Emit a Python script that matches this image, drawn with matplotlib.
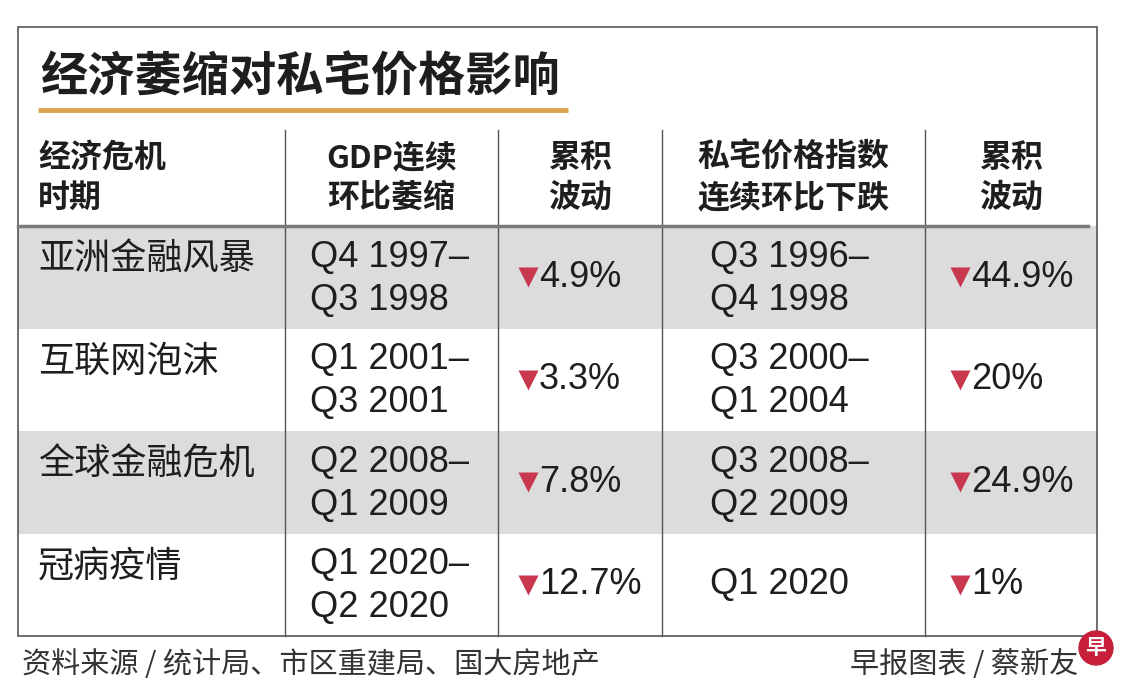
import matplotlib.pyplot as plt
from matplotlib.patches import Rectangle, Circle

plt.rcParams['font.family'] = ['Noto Sans CJK SC', 'DejaVu Sans']

title = "经济萎缩对私宅价格影响"
headers = [["经济危机", "时期"], ["GDP连续", "环比萎缩"], ["累积", "波动"],
           ["私宅价格指数", "连续环比下跌"], ["累积", "波动"]]
crises = ["亚洲金融风暴", "互联网泡沫", "全球金融危机", "冠病疫情"]
gdp_periods = [["Q4 1997–", "Q3 1998"], ["Q1 2001–", "Q3 2001"],
               ["Q2 2008–", "Q1 2009"], ["Q1 2020–", "Q2 2020"]]
gdp_change = ["4.9%", "3.3%", "7.8%", "12.7%"]
price_periods = [["Q3 1996–", "Q4 1998"], ["Q3 2000–", "Q1 2004"],
                 ["Q3 2008–", "Q2 2009"], ["Q1 2020"]]
price_change = ["44.9%", "20%", "24.9%", "1%"]
source = "资料来源 / 统计局、市区重建局、国大房地产"
credit = "早报图表 / 蔡新友"

num_font = ['Liberation Sans Narrow', 'Liberation Sans', 'DejaVu Sans']
red = '#c8384f'
grey_row = '#dcdcdc'
ink = '#1e1e1e'

fig = plt.figure(figsize=(11.4, 6.99), dpi=100)
ax = fig.add_axes([0, 0, 1, 1])
ax.set_xlim(0, 1140)
ax.set_ylim(699, 0)
ax.axis('off')

# frame
left, right, top, bottom = 18, 1097, 27, 636
col_x = [18, 285, 498, 662, 925, 1097]
head_top, head_bot = 130, 226
row_h = (bottom - head_bot) / len(crises)

for i in range(len(crises)):
    if i % 2 == 0:
        ax.add_patch(Rectangle((left, head_bot + i * row_h), right - left, row_h,
                               color=grey_row, lw=0, zorder=0))

ax.add_patch(Rectangle((left, top), right - left, bottom - top, fill=False,
                       ec='#555555', lw=1.2, zorder=3))
for x in col_x[1:-1]:
    ax.plot([x, x], [head_top, bottom], color='#555555', lw=1.0, zorder=3)
ax.plot([left, 1088], [head_bot, head_bot], color='#7a7a7a', lw=2.5, zorder=3)

# title
ax.text(40, 78, title, fontsize=34, fontweight='bold', color=ink,
        va='center', ha='left')
ax.plot([38, 568], [110, 110], color='#d9a54c', lw=3.5, solid_capstyle='butt')

# headers
for j, lines in enumerate(headers):
    if j == 0:
        x, ha = 38, 'left'
    else:
        x, ha = (col_x[j] + col_x[j + 1]) / 2, 'center'
    for k, s in enumerate(lines):
        ax.text(x, 158 + k * 40, s, fontsize=23, fontweight='bold',
                color=ink, ha=ha, va='center')

# body
for i in range(len(crises)):
    yc = head_bot + (i + 0.5) * row_h
    ax.text(38, yc - 18, crises[i], fontsize=26, color=ink,
            ha='left', va='center')
    for k, s in enumerate(gdp_periods[i]):
        ax.text(310, yc - 20 + k * 43, s, fontsize=26, family=num_font,
                color=ink, ha='left', va='center')
    n = len(price_periods[i])
    for k, s in enumerate(price_periods[i]):
        y = yc if n == 1 else yc - 20 + k * 43
        ax.text(710, y, s, fontsize=26, family=num_font,
                color=ink, ha='left', va='center')
    ax.plot(528, yc, marker='v', ms=14, color=red, mec='none')
    ax.text(539, yc, gdp_change[i], fontsize=26, family=num_font,
            color=ink, ha='left', va='center')
    ax.plot(960, yc, marker='v', ms=14, color=red, mec='none')
    ax.text(971, yc, price_change[i], fontsize=26, family=num_font,
            color=ink, ha='left', va='center')

# footer
ax.text(22, 665, source, fontsize=21, color='#333333', ha='left', va='center')
ax.text(1078, 665, credit, fontsize=21, color='#333333', ha='right', va='center')
ax.add_patch(Circle((1096, 648), 17, color='#c8203a', zorder=5))
ax.text(1096, 647, "早", fontsize=15, fontweight='bold', color='white',
        ha='center', va='center', zorder=6)

fig.savefig('out.png', dpi=100)
